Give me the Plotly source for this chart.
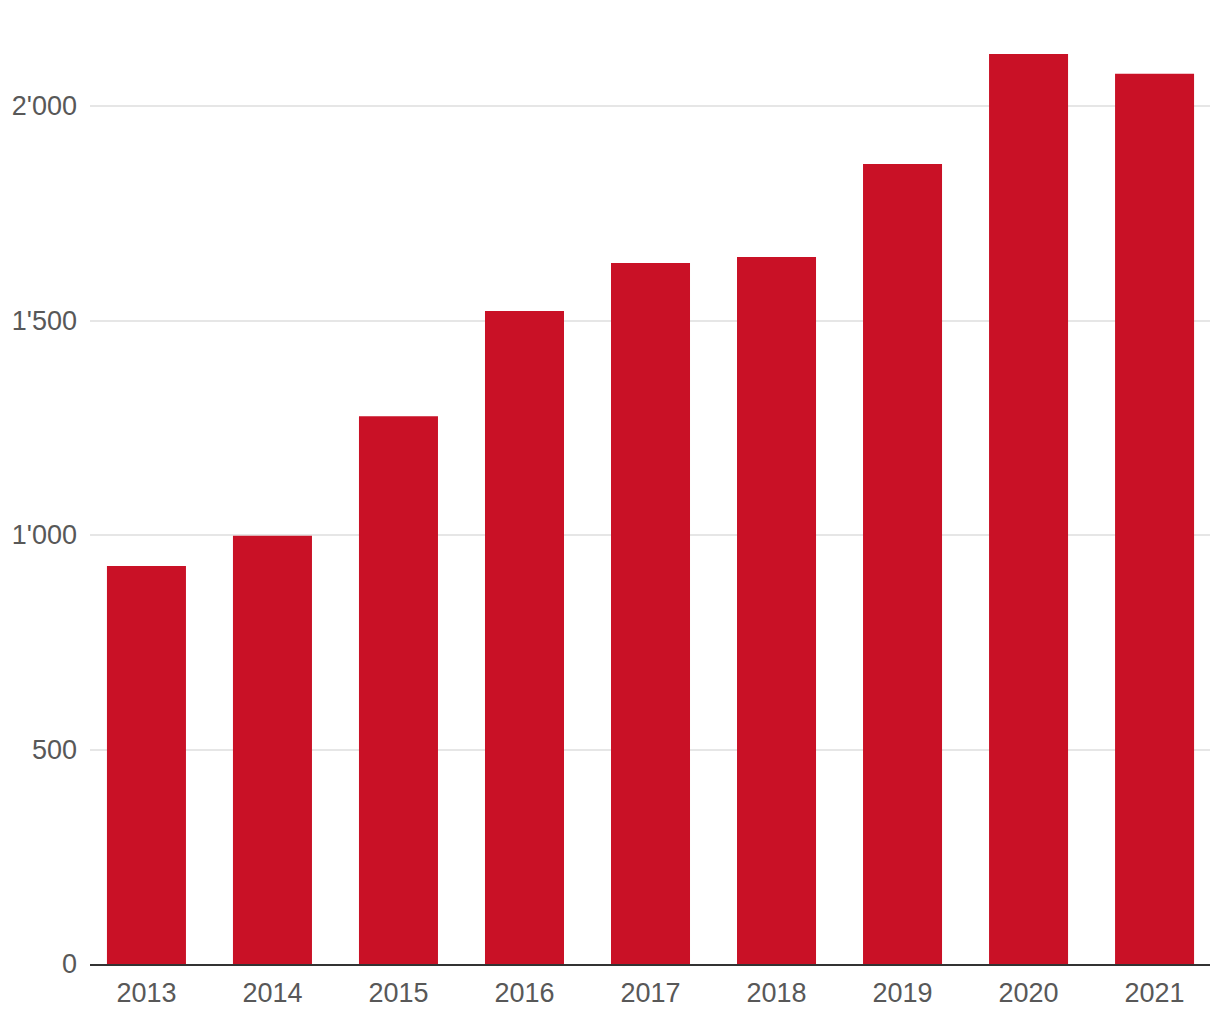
import plotly.graph_objects as go

years = ["2013", "2014", "2015", "2016", "2017", "2018", "2019", "2020", "2021"]
values = [928, 998, 1277, 1522, 1634, 1648, 1865, 2121, 2075]
y_ticks = [0, 500, 1000, 1500, 2000]

FONT = "Liberation Sans Narrow, Liberation Sans, sans-serif"

fig = go.Figure(go.Bar(
    x=years, y=values,
    marker=dict(color="#C91126", line=dict(width=0)),
))

fig.update_layout(
    width=1220, height=1020,
    margin=dict(l=90, r=10, t=10, b=56),
    paper_bgcolor="white", plot_bgcolor="white",
    separators=".'",
    bargap=0.373,
    showlegend=False,
    font=dict(family=FONT, size=27, color="#585858"),
)
fig.update_xaxes(
    type="category",
    range=[-0.448, 8.44],
    showgrid=False,
    showline=True, linecolor="#333333", linewidth=2,
    ticks="", ticklabelstandoff=4,
    tickfont=dict(family=FONT, size=27, color="#585858"),
)
fig.update_yaxes(
    range=[0, 2223.8],
    tickvals=y_ticks,
    tickformat=",d",
    showgrid=True, gridcolor="#e6e6e6", gridwidth=2,
    zeroline=False, showline=False,
    ticks="", ticklabelstandoff=12,
    tickfont=dict(family=FONT, size=27, color="#585858"),
)

fig.write_html("out.html")
